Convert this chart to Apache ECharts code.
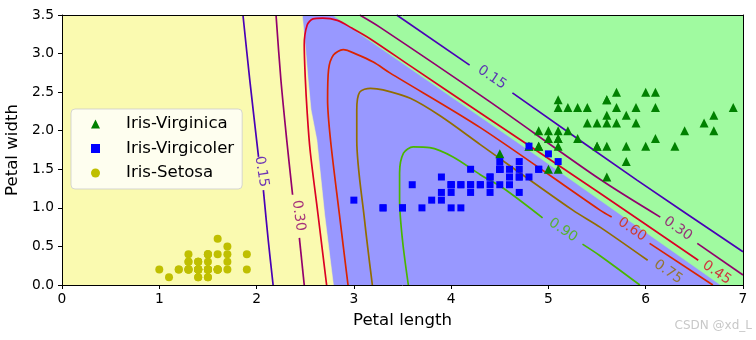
<!DOCTYPE html>
<html><head><meta charset="utf-8">
<script src="https://cdn.jsdelivr.net/npm/echarts@6/dist/echarts.min.js"></script>
<style>html,body{margin:0;padding:0;background:#fff}#c{width:756px;height:340px}</style>
</head><body><div id="c"></div>
<script>
// ---- axes ----
const xTicks = [0, 1, 2, 3, 4, 5, 6, 7];
const yTicks = [0.0, 0.5, 1.0, 1.5, 2.0, 2.5, 3.0, 3.5];
const xLabel = 'Petal length';
const yLabel = 'Petal width';
const seriesNames = ['Iris-Virginica', 'Iris-Virgicoler', 'Iris-Setosa'];

// ---- scatter data (petal length, petal width) ----
const virginica = [[6.0,2.5],[5.1,1.9],[5.9,2.1],[5.6,1.8],[5.8,2.2],[6.6,2.1],[4.5,1.7],[6.3,1.8],[5.8,1.8],[6.1,2.5],[5.1,2.0],[5.3,1.9],[5.5,2.1],[5.0,2.0],[5.1,2.4],[5.3,2.3],[5.5,1.8],[6.7,2.2],[6.9,2.3],[5.0,1.5],[5.7,2.3],[4.9,2.0],[6.7,2.0],[4.9,1.8],[5.7,2.1],[6.0,1.8],[4.8,1.8],[4.9,1.8],[5.6,2.1],[5.8,1.6],[6.1,1.9],[6.4,2.0],[5.6,2.2],[5.1,1.5],[5.6,1.4],[6.1,2.3],[5.6,2.4],[5.5,1.8],[4.8,1.8],[5.4,2.1],[5.6,2.4],[5.1,2.3],[5.1,1.9],[5.9,2.3],[5.7,2.5],[5.2,2.3],[5.0,1.9],[5.2,2.0],[5.4,2.3],[5.1,1.8]];
const versicolor = [[4.7,1.4],[4.5,1.5],[4.9,1.5],[4.0,1.3],[4.6,1.5],[4.5,1.3],[4.7,1.6],[3.3,1.0],[4.6,1.3],[3.9,1.4],[3.5,1.0],[4.2,1.5],[4.0,1.0],[4.7,1.4],[3.6,1.3],[4.4,1.4],[4.5,1.5],[4.1,1.0],[4.5,1.5],[3.9,1.1],[4.8,1.8],[4.0,1.3],[4.9,1.5],[4.7,1.2],[4.3,1.3],[4.4,1.4],[4.8,1.4],[5.0,1.7],[4.5,1.5],[3.5,1.0],[3.8,1.1],[3.7,1.0],[3.9,1.2],[5.1,1.6],[4.5,1.5],[4.5,1.6],[4.7,1.5],[4.4,1.3],[4.1,1.3],[4.0,1.3],[4.4,1.2],[4.6,1.4],[4.0,1.2],[3.3,1.0],[4.2,1.3],[4.2,1.2],[4.2,1.3],[4.3,1.3],[3.0,1.1],[4.1,1.3]];
const setosa = [[1.4,0.2],[1.4,0.2],[1.3,0.2],[1.5,0.2],[1.4,0.2],[1.7,0.4],[1.4,0.3],[1.5,0.2],[1.4,0.2],[1.5,0.1],[1.5,0.2],[1.6,0.2],[1.4,0.1],[1.1,0.1],[1.2,0.2],[1.5,0.4],[1.3,0.4],[1.4,0.3],[1.7,0.3],[1.5,0.3],[1.7,0.2],[1.5,0.4],[1.0,0.2],[1.7,0.5],[1.9,0.2],[1.6,0.2],[1.6,0.4],[1.5,0.2],[1.4,0.2],[1.6,0.2],[1.6,0.2],[1.5,0.4],[1.5,0.1],[1.4,0.2],[1.5,0.2],[1.2,0.2],[1.3,0.2],[1.4,0.1],[1.3,0.2],[1.5,0.2],[1.3,0.3],[1.3,0.3],[1.3,0.2],[1.6,0.6],[1.9,0.4],[1.4,0.3],[1.6,0.2],[1.4,0.2],[1.5,0.2],[1.4,0.2]];

// ---- decision-region boundaries ----
const setosaBoundary = [[2.47,3.5],[2.50,3.11],[2.53,2.66],[2.56,2.27],[2.62,1.88],[2.70,0.91],[2.79,0]];
const virginicaBoundary = [[2.78,3.5],[4.91,1.65],[6.77,0]];

// ---- probability contour lines (segments split at inline labels) ----
const contour015 = [[[1.86,3.5],[1.93,2.66],[2.02,1.66]], [[2.07,1.23],[2.12,0.58],[2.17,0]], [[3.44,3.5],[4.19,2.85]], [[4.63,2.49],[5.91,1.36],[7.0,0.43]]];
const contour030 = [[[2.20,3.5],[2.25,2.66],[2.31,1.88],[2.37,1.17]], [[2.44,0.61],[2.49,0]], [[3.06,3.5],[3.27,3.34],[4.37,2.40],[5.53,1.37],[6.15,0.88]], [[6.53,0.54],[7.0,0.13]]];
const contour045 = [[[2.72,0],[2.63,0.93],[2.55,1.75],[2.52,2.24],[2.50,2.70],[2.49,3.11],[2.52,3.37],[2.58,3.45],[2.68,3.46],[2.83,3.43],[2.98,3.33],[3.17,3.19],[3.58,2.84],[4.30,2.23],[5.53,1.19],[6.54,0.32]]];
const contour060 = [[[2.94,0],[2.85,0.93],[2.76,1.88],[2.73,2.40],[2.74,2.79],[2.79,2.98],[2.89,3.05],[3.03,2.99],[3.20,2.89],[3.37,2.75],[4.30,2.04],[5.53,0.97],[5.65,0.88]], [[6.04,0.54],[6.69,0]]];
const contour075 = [[[3.19,0],[3.11,0.84],[3.03,1.88],[3.03,2.27],[3.06,2.50],[3.17,2.55],[3.30,2.53],[3.58,2.42],[3.89,2.19],[4.30,1.82],[5.25,0.97],[5.53,0.75],[6.02,0.32]]];
const contour090 = [[[3.56,0],[3.50,0.58],[3.47,1.10],[3.47,1.45],[3.51,1.71],[3.61,1.79],[3.78,1.78],[4.02,1.66],[4.30,1.43],[4.53,1.26],[4.94,0.87]], [[5.35,0.53],[5.53,0.38],[5.94,0]]];

// contour label texts, positions and angles
const contourLevels = ['0.15', '0.30', '0.45', '0.60', '0.75', '0.90'];
const contourLabelPos = [[[2.05,1.47],[4.42,2.69]], [[2.43,0.90],[6.33,0.73]], [[6.73,0.16]], [[5.86,0.72]], [[6.23,0.17]], [[5.15,0.71]]];
const contourLabelAngle = [[-81,-34], [-82,-35], [-34], [-34], [-35], [-34]];

// ---- styling ----
const FONT = 'DejaVu Sans';
const contourColors = ['#4900b6', '#92006d', '#db0024', '#db2400', '#926d00', '#49b600'];
const regionColors = { setosa: '#fafab0', versicolor: '#9898ff', virginica: '#a0faa0' };
const contours = [contour015, contour030, contour045, contour060, contour075, contour090];

const xMin = xTicks[0], xMax = xTicks[xTicks.length - 1];
const yMin = yTicks[0], yMax = yTicks[yTicks.length - 1];

function polySeries(points, color) {
  return {
    type: 'custom', silent: true, z: 1, clip: true,
    data: [[xMin, yMin]],
    renderItem: (params, api) => ({
      type: 'polygon',
      shape: { points: points.map(p => api.coord(p)) },
      style: { fill: color, stroke: color, lineWidth: 0.5 }
    })
  };
}

const series = [];
series.push(polySeries([[xMin, yMin], [xMax, yMin], [xMax, yMax], [xMin, yMax]], regionColors.versicolor));
series.push(polySeries([[xMin, yMax]].concat(setosaBoundary, [[xMin, yMin]]), regionColors.setosa));
series.push(polySeries(virginicaBoundary.concat([[xMax, yMin], [xMax, yMax]]), regionColors.virginica));

contours.forEach((segs, i) => {
  segs.forEach(seg => series.push({
    type: 'line', data: seg, silent: true, z: 3,
    showSymbol: false, symbol: 'none', smooth: 0.3,
    lineStyle: { color: contourColors[i], width: 1.7 }
  }));
  contourLabelPos[i].forEach((p, j) => series.push({
    type: 'scatter', data: [p], silent: true, z: 5,
    symbolSize: 0, itemStyle: { color: 'transparent' },
    label: {
      show: true, position: 'inside', formatter: contourLevels[i],
      rotate: contourLabelAngle[i][j], color: contourColors[i],
      fontSize: 14, fontFamily: FONT
    }
  }));
});

series.push({ name: seriesNames[0], type: 'scatter', data: virginica, symbol: 'triangle', symbolSize: 9, itemStyle: { color: '#008000', opacity: 1 }, z: 4 });
series.push({ name: seriesNames[1], type: 'scatter', data: versicolor, symbol: 'rect', symbolSize: 7, itemStyle: { color: '#0000ff', opacity: 1 }, z: 4 });
series.push({ name: seriesNames[2], type: 'scatter', data: setosa, symbol: 'circle', symbolSize: 8, itemStyle: { color: '#bfbf00', opacity: 1 }, z: 4 });

const axisCommon = {
  type: 'value', splitLine: { show: false }, z: 10,
  axisLine: { show: true, onZero: false, lineStyle: { color: '#000', width: 1 } }
};

const option = {
  animation: false,
  backgroundColor: '#fff',
  grid: { left: 62, right: 13, top: 15, bottom: 55, containLabel: false, outerBoundsMode: 'none' },
  xAxis: [
    Object.assign({}, axisCommon, {
      position: 'bottom', min: xMin, max: xMax, interval: 1,
      axisTick: { show: true, length: 4, lineStyle: { color: '#000' } },
      axisLabel: { show: true, fontSize: 13.8, color: '#000', fontFamily: FONT, margin: 7, showMinLabel: true, showMaxLabel: true },
      name: xLabel, nameLocation: 'middle', nameGap: 27,
      nameTextStyle: { fontSize: 16.6, color: '#000', fontFamily: FONT }
    }),
    Object.assign({}, axisCommon, {
      position: 'top', min: xMin, max: xMax,
      axisTick: { show: false }, axisLabel: { show: false }
    })
  ],
  yAxis: [
    Object.assign({}, axisCommon, {
      position: 'left', min: yMin, max: yMax, interval: 0.5,
      axisTick: { show: true, length: 4, lineStyle: { color: '#000' } },
      axisLabel: { show: true, fontSize: 13.8, color: '#000', fontFamily: FONT, margin: 8, showMinLabel: true, showMaxLabel: true,
        formatter: v => v.toFixed(1) },
      name: yLabel, nameLocation: 'middle', nameGap: 31,
      nameTextStyle: { fontSize: 16.6, color: '#000', fontFamily: FONT }
    }),
    Object.assign({}, axisCommon, {
      position: 'right', min: yMin, max: yMax,
      axisTick: { show: false }, axisLabel: { show: false }
    })
  ],
  legend: {
    data: seriesNames, orient: 'vertical', left: 71, top: 109, z: 20,
    selectedMode: false,
    padding: [5, 8, 6, 20], itemWidth: 9, itemHeight: 9, itemGap: 4.5,
    backgroundColor: 'rgba(255,255,255,0.8)', borderColor: 'rgba(204,204,204,0.8)', borderWidth: 1, borderRadius: 4,
    textStyle: { fontSize: 16.6, fontFamily: FONT, color: '#000', lineHeight: 20, padding: [0, 0, 0, 21] }
  },
  graphic: [{
    type: 'text', right: 4, bottom: 8, z: 30,
    style: { text: 'CSDN @xd_L', fill: '#c8c8c8', font: '12px "DejaVu Sans"' }
  }],
  series: series
};

const chart = echarts.init(document.getElementById('c'), null, { renderer: 'canvas' });
chart.setOption(option);
</script>
</body></html>
